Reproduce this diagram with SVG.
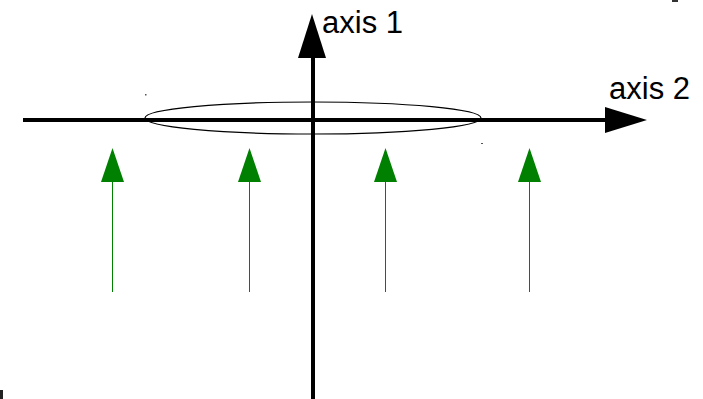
<svg xmlns="http://www.w3.org/2000/svg" width="703" height="399" viewBox="0 0 703 399">
<style>
.axis{stroke:#000;stroke-width:4;fill:none}
.head{fill:#000}
.g{stroke:#008000;stroke-width:1;fill:none}
.gh{fill:#008000}
.lbl{font-family:"Liberation Sans",Arial,sans-serif;font-size:31px;fill:#000}
</style>
<rect width="703" height="399" fill="#fff"/>
<g id="connectors">
<line class="axis" x1="23" y1="120" x2="606" y2="120"/>
<polygon class="head" points="605,107 647,120 605,133"/>
<line class="axis" x1="313" y1="399" x2="313" y2="56"/>
<polygon class="head" points="298,58 312,14 326,58"/>
<line class="g" x1="112.5" y1="292" x2="112.5" y2="180"/>
<polygon class="gh" points="101,182 112.5,148 124,182"/>
<line class="g" x1="249.5" y1="292" x2="249.5" y2="180"/>
<polygon class="gh" points="238,182 249.5,148 261,182"/>
<line class="g" x1="385.5" y1="292" x2="385.5" y2="180"/>
<polygon class="gh" points="374,182 385.5,148 397,182"/>
<line class="g" x1="529.5" y1="292" x2="529.5" y2="180"/>
<polygon class="gh" points="518,182 529.5,148 541,182"/>
</g>
<g id="ellipse">
<ellipse cx="313" cy="118" rx="168" ry="16" fill="none" stroke="#000" stroke-width="1.2"/>
</g>
<g id="marks">
<rect x="145" y="94" width="1.5" height="1.5" fill="#555"/>
<rect x="481" y="143" width="2" height="1" fill="#555"/>
<rect x="672" y="0" width="6" height="2" fill="#333"/>
<rect x="0" y="390" width="3" height="9" fill="#222"/>
</g>
<g id="label-axis1"><text class="lbl" x="322" y="33">axis 1</text></g>
<g id="label-axis2"><text class="lbl" x="609" y="99">axis 2</text></g>
</svg>
